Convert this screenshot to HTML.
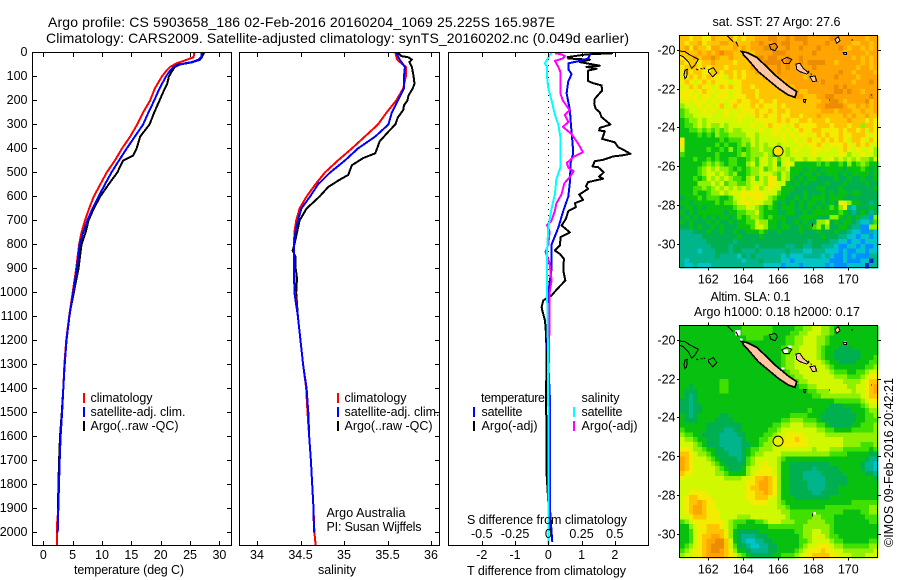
<!DOCTYPE html>
<html lang="en">
<head>
<meta charset="utf-8">
<title>Argo profile CS 5903658_186</title>
<style>
html,body{margin:0;padding:0;background:#fff;}
svg{display:block;}
text{font-family:"Liberation Sans",Arial,sans-serif;font-size:12.5px;fill:#000;}
.t{font-size:14px;}
</style>
</head>
<body>
<svg id="fig" xmlns="http://www.w3.org/2000/svg" width="900" height="580" viewBox="0 0 900 580" shape-rendering="crispEdges">
  <rect x="0" y="0" width="900" height="580" fill="#fff"/>

  <text class="t" x="48" y="27" textLength="507" lengthAdjust="spacing">Argo profile: CS 5903658_186 02-Feb-2016 20160204_1069 25.225S 165.987E</text>
  <text class="t" x="46" y="43" textLength="583" lengthAdjust="spacing">Climatology: CARS2009. Satellite-adjusted climatology: synTS_20160202.nc (0.049d earlier)</text>

  <g id="lines1"></g>
  <g id="lines2"></g>
  <g id="lines3"></g>
  <g id="map1cells"></g>
  <g id="map2cells"></g>
  <g id="coast1" transform="translate(660,0) scale(0.33333)"></g>
  <g id="coast2" transform="translate(660,290) scale(0.33333)"></g>
  <g id="marks"></g>

  <rect x="32.5" y="52.5" width="199" height="493" fill="none" stroke="#000"/>
  <rect x="239.5" y="52.5" width="200" height="493" fill="none" stroke="#000"/>
  <rect x="448.5" y="52.5" width="200" height="493" fill="none" stroke="#000"/>
  <rect x="679.5" y="35.5" width="198" height="232" fill="none" stroke="#000"/>
  <rect x="679.5" y="325.5" width="198" height="232" fill="none" stroke="#000"/>
  <g id="axes"></g>

  <text x="74" y="574" textLength="110" lengthAdjust="spacing">temperature (deg C)</text>
  <text x="318" y="574" textLength="38" lengthAdjust="spacing">salinity</text>
  <text x="467" y="575" textLength="159" lengthAdjust="spacing">T difference from climatology</text>
  <text x="467" y="524" textLength="160" lengthAdjust="spacing">S difference from climatology</text>

  <g>
    <rect x="83" y="393" width="2" height="10" fill="#f00"/>
    <rect x="83" y="407" width="2" height="10" fill="#00f"/>
    <rect x="83" y="421" width="2" height="10" fill="#000"/>
    <text x="90.5" y="402" textLength="62" lengthAdjust="spacing">climatology</text>
    <text x="90.5" y="416" textLength="95" lengthAdjust="spacing">satellite-adj. clim.</text>
    <text x="90.5" y="430" textLength="88" lengthAdjust="spacing">Argo(..raw -QC)</text>
  </g>
  <g>
    <rect x="337" y="393" width="2" height="10" fill="#f00"/>
    <rect x="337" y="407" width="2" height="10" fill="#00f"/>
    <rect x="337" y="421" width="2" height="10" fill="#000"/>
    <text x="344.5" y="402" textLength="62" lengthAdjust="spacing">climatology</text>
    <text x="344.5" y="416" textLength="95" lengthAdjust="spacing">satellite-adj. clim.</text>
    <text x="344.5" y="430" textLength="88" lengthAdjust="spacing">Argo(..raw -QC)</text>
    <text x="326.5" y="517" textLength="79" lengthAdjust="spacing">Argo Australia</text>
    <text x="326.5" y="531" textLength="95" lengthAdjust="spacing">PI: Susan Wijffels</text>
  </g>
  <g>
    <text x="481" y="402" textLength="64" lengthAdjust="spacing">temperature</text>
    <rect x="473" y="407" width="2" height="10" fill="#00f"/>
    <rect x="473" y="421" width="2" height="10" fill="#000"/>
    <text x="481.5" y="416" textLength="41" lengthAdjust="spacing">satellite</text>
    <text x="481.5" y="430" textLength="56" lengthAdjust="spacing">Argo(-adj)</text>
    <text x="581.5" y="402" textLength="38" lengthAdjust="spacing">salinity</text>
    <rect x="573" y="407" width="2" height="10" fill="#0ff"/>
    <rect x="573" y="421" width="2" height="10" fill="#f0f"/>
    <text x="581.5" y="416" textLength="41" lengthAdjust="spacing">satellite</text>
    <text x="581.5" y="430" textLength="56" lengthAdjust="spacing">Argo(-adj)</text>
  </g>

  <text x="712.5" y="26" textLength="128" lengthAdjust="spacing">sat. SST: 27 Argo: 27.6</text>
  <text x="710.5" y="301" textLength="80" lengthAdjust="spacing">Altim. SLA: 0.1</text>
  <text x="694" y="316" textLength="166" lengthAdjust="spacing">Argo h1000: 0.18 h2000: 0.17</text>
  <text transform="translate(893,547) rotate(-90)" textLength="169" lengthAdjust="spacing">©IMOS 09-Feb-2016 20:42:21</text>
</svg>

<script>
/* ---------- temperature profile (deg C) ---------- */
const depthTempArgo = [0,20,30,40,45,50,60,75,100,130,150,200,250,300,350,400,430,450,500,550,600,650,700,750,800,900,1000,1100,1200,1300,1400,1500,1600,1700,1800,1900,2000];
const tempArgo = [27.4,27.0,26.7,25.5,24.4,23.3,22.4,22.0,21.4,21.1,20.7,19.8,18.9,18.1,16.5,15.9,15.3,13.6,12.6,11.1,9.7,8.6,7.7,7.2,6.5,6.0,5.2,4.4,3.9,3.6,3.4,3.15,2.85,2.7,2.58,2.5,2.42];
const depthTempClim = [0,20,25,35,45,60,75,100,150,200,250,300,350,400,450,500,550,600,650,700,750,800,900,1000,1100,1200,1300,1400,1500,1600,1700,1800,1900,1980,2055];
const tempClim = [25.7,25.6,25.0,23.9,22.7,21.6,21.0,20.2,19.0,18.2,17.0,16.0,14.8,13.4,12.2,10.8,9.7,8.6,7.8,7.1,6.5,6.1,5.6,5.0,4.4,3.9,3.6,3.4,3.2,2.95,2.8,2.68,2.55,2.3,2.35];
const depthTempSat = [0,20,30,40,45,50,60,75,100,150,200,250,300,350,400,450,500,550,600,650,700,750,800,900,1000,1100,1200,1300,1400,1500,1600,1700,1800,1900,2000];
const tempSat = [27.0,26.9,26.4,25.3,24.1,23.0,22.2,21.6,20.9,19.8,18.9,17.9,17.0,15.6,14.2,12.9,11.6,10.5,9.4,8.4,7.5,6.8,6.2,5.7,5.1,4.45,3.95,3.65,3.4,3.2,2.95,2.8,2.68,2.55,2.46];

/* ---------- salinity profile ---------- */
const depthSalArgo = [0,15,20,30,40,60,100,130,150,180,200,220,240,270,300,330,370,420,440,470,510,530,560,600,650,700,750,800,825,850,900,940,1000,1100,1200,1300,1400,1500,1600,1700,1800,1900,2000];
const salArgo = [35.62,35.66,35.74,35.78,35.75,35.78,35.8,35.81,35.79,35.74,35.73,35.69,35.68,35.62,35.59,35.51,35.41,35.36,35.22,35.09,35.05,34.95,34.82,34.72,34.57,34.49,34.46,34.43,34.41,34.44,34.445,34.46,34.45,34.47,34.5,34.53,34.57,34.586,34.6,34.62,34.635,34.65,34.655];
const depthSalClim = [0,30,60,100,150,200,250,300,350,400,450,500,550,600,650,700,750,800,900,1000,1100,1200,1300,1400,1500,1600,1700,1800,1900,2000,2055];
const salClim = [35.59,35.61,35.71,35.71,35.68,35.6,35.49,35.39,35.24,35.09,34.93,34.78,34.67,34.57,34.49,34.45,34.43,34.425,34.425,34.435,34.47,34.5,34.53,34.565,34.58,34.6,34.62,34.635,34.65,34.66,34.675];
const depthSalSat = [0,30,60,100,150,200,250,300,350,400,450,500,550,600,650,700,750,800,900,1000,1100,1200,1300,1400,1500,1600,1700,1800,1900,2000];
const salSat = [35.6,35.64,35.7,35.69,35.69,35.62,35.55,35.51,35.36,35.16,35.01,34.84,34.7,34.61,34.51,34.47,34.44,34.425,34.425,34.43,34.47,34.5,34.53,34.57,34.59,34.6,34.62,34.635,34.65,34.655];

/* ---------- differences from climatology ---------- */
const depthDiffTArgo = [3,8,19,25,30,40,55,60,68,75,96,119,128,137,158,193,214,235,249,269,300,314,325,328,360,374,394,401,422,429,433,447,453,475,478,499,517,526,540,558,568,592,614,628,644,661,693,721,749,769,804,825,839,860,908,950,985,1012,1033,1061,1075,1117,1172,1256,1450,1589,1756,1922,1992];
const diffTArgo = [1.95,1.15,0.58,0.6,1.25,0.95,1.55,1.15,1.45,1.2,1.2,1.2,1.35,1.6,1.62,1.4,1.38,1.43,1.55,1.6,1.87,1.55,1.53,1.7,1.62,2.0,2.1,2.2,2.47,2.2,1.95,1.65,1.4,1.33,1.5,1.67,1.53,1.65,1.2,1.13,1.2,0.93,1.05,0.8,0.83,0.6,0.53,0.4,0.65,0.37,0.35,0.2,0.35,0.47,0.45,0.51,0.27,0.1,-0.15,-0.2,-0.18,-0.1,-0.07,-0.05,-0.07,-0.05,-0.05,0.02,0.05];
const depthDiffTSat = [3,10,25,35,45,70,90,120,170,240,300,380,420,460,540,600,660,730,800,900,1000,1100,1200,1450,1900,2000,2040];
const diffTSat = [1.27,1.25,1.2,0.95,0.6,0.6,0.7,0.6,0.55,0.65,0.68,0.73,0.75,0.67,0.65,0.6,0.45,0.3,0.1,0.1,0,0,-0.03,0.05,0.05,0.1,0.12];
const depthDiffSArgo = [3,8,15,25,35,60,80,120,170,200,240,260,290,310,340,380,415,435,460,480,495,520,545,590,630,660,700,720,745,800,830,880,950,1000,1100,1400,2000];
const diffSArgo = [0.05,0.1,0.125,0.11,0.05,0.075,0.09,0.09,0.09,0.11,0.16,0.125,0.15,0.11,0.175,0.225,0.26,0.19,0.14,0.15,0.19,0.16,0.12,0.1,0.06,0.05,0.025,-0.01,0.01,0,-0.02,0.01,0.025,0.01,0.01,0,0];
const depthDiffSSat = [0,20,45,60,100,150,200,260,300,350,400,480,530,590,650,730,830,1000,1100,1500,2050];
const diffSSat = [0.025,0,-0.025,-0.01,-0.01,0,0.025,0.05,0.075,0.09,0.09,0.09,0.06,0.05,0.025,0,-0.01,-0.01,-0.005,0,0];

/* ---------- axis tick labels ---------- */
const depthTicks = [0,100,200,300,400,500,600,700,800,900,1000,1100,1200,1300,1400,1500,1600,1700,1800,1900,2000];
const tempTicks = [0,5,10,15,20,25,30];
const salTicks = [34,34.5,35,35.5,36];
const tDiffTicks = [-2,-1,0,1,2];
const sDiffTickValues = [-0.5,-0.25,0,0.25,0.5];
const lonTicks = [162,164,166,168,170];
const latTicks = [20,22,24,26,28,30];

/* ---------- Argo float position ---------- */
const argoLon = [165.987];
const argoLat = [25.225];

/* ---------- map heatmap levels: 0 (dark blue) ... c (dark orange), one row per 0.25 deg ---------- */
const sstRows = [
"aa9aa 99baa ab9a9 aabbb ccbbc bcccb bbbbc cbbbb bbabb",
"a9aab 9aaab babaa abbcb bcbcc bbbcb bbbcb bbbba abbab",
"ab9ba a9bba aabab abbbc ccbbc bbcbb bcbbb bcbab babab",
"aaaab ababc bbaaa aabbb bcccb bbbbb cbbbb bbabb bbabb",
"9aaba bbcba abaaa aabcb ccbbc bbcbb bbbbb bbbba babab",
"a9aa9 aabaa aa9aa ababc cccbc bbcbc cccbb abbbb babab",
"9aaa9 a9aaa 9aaaa abbbc bbcbc bbbbb cbbbb bbbbb abbab",
"9a9aa 99aa9 aa9a9 aabbb bbcbb bbbbb bbbbb bcbba bbbba",
"99a9a 9a999 8a9a9 aaaab babbb bbbab bbbbb cbbbb abbbb",
"9a989 a9a99 9899a aaaaa aaaab bbbbb bbcbb bbbba bbbcb",
"89a9a 9989a 9a99a a9aaa aabab abbbb bbbbb cbcbb bbbbb",
"99989 a9989 9899a aa9aa aaaaa abaab bbbbb ccbcb babbb",
"99998 99899 98999 aa9aa aaaaa abbaa abbcc bbbbb bbbcb",
"89899 98989 899a9 9aa9a a9aaa aaaaa aabbc cbabb bbcab",
"78889 8989a 89a99 9a9a9 99a9a aaaaa abbcc ccbaa babab",
"67888 98988 98989 99a99 a9aa9 aaaaa aabbb abbba abaab",
"67788 89888 98899 89a9a 99a99 aa9aa abaaa aabab aabaa",
"56778 78888 88898 88999 99a9a 99aa9 aaa9a aaaba aa9a9",
"56678 78778 78888 89889 a9998 9a999 9aaa9 aaa9a a7aa9",
"55667 67676 78778 88898 89989 89a99 aa999 9a9aa 9a8a9",
"55556 56576 67777 88788 89898 98998 9a9a9 9a99a aa989",
"95555 55556 56667 78788 88898 8989a 99a9a 9a98a a98a9",
"95555 55565 65567 68787 88788 88989 9a989 99a98 a9a88",
"85555 56556 57565 67787 78887 89888 99898 89a98 98897",
"65555 55565 55567 67778 75887 88888 98888 89878 89887",
"55565 56565 56655 67688 78688 78878 87889 78787 87768",
"55555 67676 56655 78688 78589 85555 56565 56575 67655",
"55556 78787 76565 67786 78778 55545 54555 55455 56545",
"55556 78878 76755 67788 87687 55455 45455 54545 55545",
"55565 68787 87665 78687 99687 54545 54444 54454 45445",
"55557 77878 67766 78887 99885 45454 44454 44544 44544",
"55566 76787 87878 78978 98855 54444 45544 45444 44445",
"55565 56778 78889 99998 88655 44454 44545 45545 54444",
"45556 56665 56889 89998 76554 45454 55545 55444 44444",
"55455 55565 66789 98987 75454 54545 54545 49875 54434",
"45545 45555 55677 88765 65455 54545 45456 57932 44454",
"54545 55555 45566 77865 55445 54454 55555 56543 45434",
"45454 54545 54565 67765 65554 44555 54447 75454 53317",
"54544 45454 45455 66877 55454 45454 47784 54554 32236",
"44545 44545 44455 56887 55455 44545 67574 45543 31177",
"33344 45445 44544 55565 44544 44544 45444 54432 21132",
"33333 44444 44454 44454 44444 44444 44544 43322 12212",
"33333 34444 44344 44444 44444 44443 44443 32212 21222",
"33333 33444 43444 44344 44443 34433 44333 21122 12112",
"33332 33344 43443 33433 33334 33322 33322 21211 22122",
"33333 33343 33324 34333 33323 22233 33232 11212 11133",
"32333 33333 33332 33343 33322 12222 22221 11211 12203",
"32232 22333 33333 33332 22212 22122 22212 11122 22033"
];
const slaRows = [
"55555 55555 55556 66666 65555 56677 88776 55555 55555",
"55555 55555 55556 66666 65555 66778 88776 55555 55555",
"55555 55555 55555 66665 55556 67788 87765 55555 55555",
"55555 55555 55555 55555 55556 67788 87765 55555 55555",
"55555 55555 55555 55555 55566 77888 87655 54445 55555",
"55555 55555 55555 55555 55566 77888 87655 44444 45555",
"55555 55555 55555 55555 55567 78888 87655 44444 45556",
"55555 55555 55555 55555 55567 78888 88765 54444 55566",
"55555 55555 55555 55555 55567 78889 88876 55555 55667",
"55555 55555 55555 55555 55556 77888 88887 66655 66788",
"55555 55555 55555 55555 55556 67788 88888 77766 67899",
"55555 55556 65555 55555 55555 66778 88888 88777 789aa",
"55455 55556 65555 55555 55555 55667 78888 88877 889ab",
"54445 55556 65555 55555 55555 55556 67778 88887 889ab",
"54345 55555 55555 55555 55555 55555 66777 77777 789aa",
"44345 55555 55555 55555 55555 55555 55555 66666 67899",
"44344 55555 55555 55555 55555 55555 55554 44555 56788",
"44344 55555 55555 55555 55555 55556 55544 44445 55677",
"54345 55554 45555 55555 55555 66665 55444 44444 55667",
"54445 55544 44555 55555 55566 77766 65444 44444 55666",
"55555 54444 44445 55555 56677 88877 76654 44445 56667",
"65555 54444 33445 55555 66788 88888 87766 55556 66667",
"76655 44443 33344 55556 67889 99988 88877 77777 77777",
"87765 54443 33334 55566 78899 9a998 88888 88777 77777",
"88876 54443 33334 45567 78899 99998 88888 88777 76667",
"99877 65544 33334 56677 78888 88888 78887 77666 66656",
"aa987 76544 43334 56778 88877 77777 77776 66655 55544",
"ba988 87654 44434 67888 88765 55555 55555 55555 55433",
"ba988 88765 44444 67889 88755 44444 44445 55555 54332",
"ba988 88876 54445 78899 98755 44444 34444 45555 54332",
"a9988 88877 65555 78999 98755 44433 33444 44555 55443",
"98888 88888 77778 89aab a9755 44433 33344 44455 55554",
"88888 88888 88888 99abb a9755 44443 33344 44455 55555",
"88888 88888 88888 9aabb a9755 44443 33344 45555 55555",
"88999 98888 88888 99aab a9755 44444 33444 45555 55555",
"89aa9 99888 88888 99aaa 98755 54444 44445 55555 55555",
"89aab a9988 88888 89999 88765 55555 55555 55556 66666",
"89abb a9988 88888 88888 88776 55555 55566 66666 66677",
"89abb a9998 88888 88888 88877 66666 66666 66555 56677",
"889aa a9998 88877 78888 88887 66666 77666 55555 55666",
"67899 99999 87666 55667 88877 76667 77766 55555 55566",
"55789 9aaa9 87655 55555 66666 66677 77776 55555 55555",
"55689 9aaaa 97544 44455 55555 56677 88776 55555 55555",
"55689 aabba 97543 33444 55555 55677 88876 65555 55555",
"55689 abbcc a8543 22334 45555 55667 88887 66555 55566",
"56789 abccc a8644 32233 44555 55678 89998 77666 66677",
"67899 abccb a9755 43333 44555 56789 99a99 88777 77778",
"78899 abbbb a9876 54444 45566 67899 aaaa9 98887 77888"
];

const SVGNS = 'http://www.w3.org/2000/svg';
const palette = {'0':'#0030d0','1':'#0090ff','2':'#00c4c8','3':'#00b48c','4':'#00b050','5':'#08c010','6':'#40e000','7':'#90f000','8':'#d0f800','9':'#f4ec00','a':'#ffc400','b':'#ffa400','c':'#ec8c00'};

/* axis functions */
const yDepth = d => 52.5 + d * 0.24;
const xTemp = t => 43.3 + t * 5.87;
const xSal = s => 257 + (s - 34) * 87;
const xTDiff = t => 548.3 + t * 33.25;
const xSDiff = s => 548.3 + s * 133;
const xLon = lon => 708.3 + (lon - 162) * 17.5;
const yLat = (lat, top) => top + 14.3 + (lat - 20) * 19.4;

function make(tag, attrs, parent) {
  const el = document.createElementNS(SVGNS, tag);
  for (const k in attrs) el.setAttribute(k, attrs[k]);
  parent.appendChild(el);
  return el;
}

function drawSeries(parentId, depths, values, xFn, color, name) {
  const pts = depths.map((d, i) => xFn(values[i]).toFixed(1) + ',' + yDepth(d).toFixed(1)).join(' ');
  const el = make('polyline', {points: pts, fill: 'none', stroke: color, 'stroke-width': 2, 'stroke-linejoin': 'round'}, document.getElementById(parentId));
  
  
}

drawSeries('lines1', depthTempArgo, tempArgo, xTemp, '#000', 'temperature-argo-line');
drawSeries('lines1', depthTempClim, tempClim, xTemp, '#f00', 'temperature-climatology-line');
drawSeries('lines1', depthTempSat, tempSat, xTemp, '#00f', 'temperature-satellite-line');
drawSeries('lines2', depthSalArgo, salArgo, xSal, '#000', 'salinity-argo-line');
drawSeries('lines2', depthSalClim, salClim, xSal, '#f00', 'salinity-climatology-line');
drawSeries('lines2', depthSalSat, salSat, xSal, '#00f', 'salinity-satellite-line');

/* zero reference */
const zeroLine = make('line', {x1: xTDiff(0), x2: xTDiff(0), y1: 53, y2: 545, stroke: '#000', 'stroke-width': 1, 'stroke-dasharray': '1 5'}, document.getElementById('lines3'));



drawSeries('lines3', depthDiffTArgo, diffTArgo, xTDiff, '#000', 't-difference-argo-line');
drawSeries('lines3', depthDiffTSat, diffTSat, xTDiff, '#00f', 't-difference-satellite-line');
drawSeries('lines3', depthDiffSArgo, diffSArgo, xSDiff, '#f0f', 's-difference-argo-line');
drawSeries('lines3', depthDiffSSat, diffSSat, xSDiff, '#0ff', 's-difference-satellite-line');

/* heatmaps */
function drawHeat(parentId, rows, top, name) {
  const parent = document.getElementById(parentId);
  const cw = 198 / 45, ch = 232 / 48;
  rows.forEach((row, r) => {
    const chars = row.replace(/ /g, '');
    for (let c = 0; c < chars.length; c++) {
      const cell = make('rect', {
        x: (680 + c * cw).toFixed(2), y: (top + r * ch).toFixed(2),
        width: (cw + 0.6).toFixed(2), height: (ch + 0.6).toFixed(2),
        fill: palette[chars[c]]
      }, parent);
      
      
    }
  });
}
drawHeat('map1cells', sstRows, 36, 'sst-cell');
drawHeat('map2cells', slaRows, 326, 'sla-cell');

/* coastlines: outline shapes traced on the map, in 1/3-pixel units */
const landMain = "248,155 262,158 290,172 320,200 345,225 385,258 410,275 405,292 385,285 355,265 325,240 295,215 265,180 250,165";
const coastLoops = [
  "58,153 75,155 90,165 115,178 105,195 95,205 85,185 70,170 58,165",
  "75,210 82,208 80,230 75,235 72,225",
  "145,210 160,203 170,218 158,230 145,215",
  "328,135 345,130 353,140 345,152 333,148",
  "365,180 380,172 395,178 388,190 372,190",
  "408,192 420,190 430,205 445,218 440,222 420,215 410,208",
  "450,230 465,228 470,243 458,245",
  "430,298 438,298 435,308 430,305",
  "525,118 535,110 540,122 530,130",
  "550,158 560,157 560,163 552,163"
];
const coastTicks = ["108,207 115,210","122,205 128,208","130,203 135,206","202,108 220,125","228,125 235,140","240,152 246,158","445,213 448,218","452,221 455,225","575,120 579,120","507,300 510,300","633,285 636,285","458,670 458,680"];
const whitePatches2 = ["227,120 14 16","240,145 8 10","382,166 12 8","370,178 14 12","460,666 8 8","330,213 8 6","365,232 8 6","552,155 8 8"];

function drawCoast(id, suffix, withWhite) {
  const g = document.getElementById(id);
  if (withWhite) {
    whitePatches2.forEach(s => {
      const p = s.split(' ');
      const xy = p[0].split(',');
      const w = make('rect', {x: xy[0], y: xy[1], width: p[1], height: p[2], fill: '#fff'}, g);
      
      
    });
  }
  coastLoops.forEach(pts => {
    const fillColor = (pts.indexOf('408,192') === 0 || pts.indexOf('450,230') === 0 || pts.indexOf('525,118') === 0) ? '#ffc8a0' : 'none';
    const loop = make('polygon', {points: pts, fill: fillColor, stroke: '#000', 'stroke-width': 3}, g);
    
    
  });
  coastTicks.forEach(pts => {
    const tick = make('polyline', {points: pts, fill: 'none', stroke: '#000', 'stroke-width': 3}, g);
    
    
  });
  const land = make('polygon', {points: landMain, fill: '#ffc8a0', stroke: '#000', 'stroke-width': 5}, g);
  
  
}
drawCoast('coast1', '-sst', false);
drawCoast('coast2', '-sla', true);

/* Argo position markers */
const marks = document.getElementById('marks');
const mark1 = make('circle', {cx: xLon(argoLon[0]), cy: yLat(argoLat[0], 35.5), r: 5, fill: '#f8e000', stroke: '#000', 'stroke-width': 1, 'shape-rendering': 'geometricPrecision'}, marks);


const mark2 = make('circle', {cx: xLon(argoLon[0]), cy: yLat(argoLat[0], 325.5), r: 5, fill: '#e8f000', stroke: '#000', 'stroke-width': 1, 'shape-rendering': 'geometricPrecision'}, marks);



/* axes */
const axes = document.getElementById('axes');
function tick(x1, y1, x2, y2, name) {
  const el = make('line', {x1: x1, y1: y1, x2: x2, y2: y2, stroke: '#000', 'stroke-width': 1}, axes);
  
  
}
function label(x, y, str, anchor, name) {
  const el = make('text', {x: x, y: y, 'text-anchor': anchor}, axes);
  el.textContent = str;
  
  
}
depthTicks.forEach(d => {
  const y = Math.round(yDepth(d) - 0.5) + 0.5;
  tick(33, y, 37, y, 'depth-tick');
  tick(227, y, 231, y, 'depth-tick');
  tick(435, y, 439, y, 'depth-tick');
  label(27.5, y + 3.5, String(d), 'end', 'depth-tick-label');
});
function xAxis(ticks, xFn, name) {
  ticks.forEach(v => {
    const x = Math.round(xFn(v)) + 0.5;
    tick(x, 53, x, 57, name + '-top-tick');
    tick(x, 541, x, 545, name + '-bottom-tick');
    label(xFn(v), 559, String(v), 'middle', name + '-tick-label');
  });
}
xAxis(tempTicks, xTemp, 'temperature');
xAxis(salTicks, xSal, 'salinity');
xAxis(tDiffTicks, xTDiff, 't-difference');
sDiffTickValues.forEach(v => {
  label(xSDiff(v), 538, String(v), 'middle', 's-difference-tick-label');
});
function mapAxes(top, name) {
  lonTicks.forEach(lon => {
    const x = Math.round(xLon(lon)) + 0.5;
    tick(x, top - 3, x, top, name + '-lon-tick');
    tick(x, top + 232, x, top + 235, name + '-lon-tick');
    label(xLon(lon), top + 248, String(lon), 'middle', name + '-lon-label');
  });
  latTicks.forEach(lat => {
    const y = Math.round(yLat(lat, top)) + 0.5;
    tick(677, y, 680, y, name + '-lat-tick');
    tick(878, y, 881, y, name + '-lat-tick');
    label(675.5, y + 4, '-' + lat, 'end', name + '-lat-label');
  });
}
mapAxes(35.5, 'sst-map');
mapAxes(325.5, 'sla-map');
</script>
</body>
</html>
